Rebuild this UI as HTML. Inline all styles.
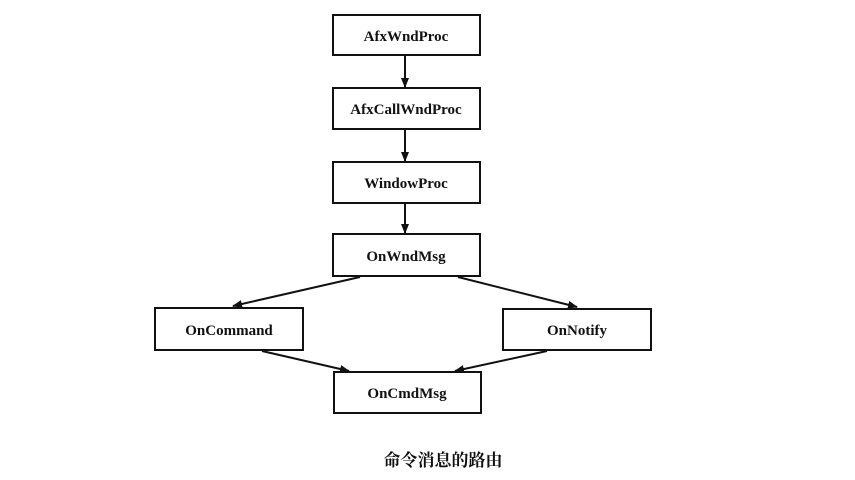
<!DOCTYPE html>
<html><head><meta charset="utf-8"><style>
html,body{margin:0;padding:0;background:#fff;}
svg{display:block;}
text{font-family:"Liberation Serif","Noto Serif CJK SC",serif;font-size:15px;font-weight:bold;fill:#111;}
</style></head><body>
<svg width="855" height="480" viewBox="0 0 855 480" xmlns="http://www.w3.org/2000/svg">
<defs><marker id="a" markerWidth="10" markerHeight="8" refX="9" refY="4" orient="auto" markerUnits="userSpaceOnUse"><path d="M0,0 L10,4 L0,8 Z" fill="#111"/></marker></defs>
<g fill="none" stroke="#111" stroke-width="2">
<rect x="333" y="15" width="147" height="40"/>
<rect x="333" y="88" width="147" height="41"/>
<rect x="333" y="162" width="147" height="41"/>
<rect x="333" y="234" width="147" height="42"/>
<rect x="155" y="308" width="148" height="42"/>
<rect x="503" y="309" width="148" height="41"/>
<rect x="334" y="372" width="147" height="41"/>
<line x1="405" y1="56" x2="405" y2="87" marker-end="url(#a)"/>
<line x1="405" y1="130" x2="405" y2="161" marker-end="url(#a)"/>
<line x1="405" y1="204" x2="405" y2="233" marker-end="url(#a)"/>
<line x1="360" y1="277" x2="233" y2="306" marker-end="url(#a)"/>
<line x1="458" y1="277" x2="577" y2="307" marker-end="url(#a)"/>
<line x1="262" y1="351" x2="349" y2="371" marker-end="url(#a)"/>
<line x1="547" y1="351" x2="455" y2="371" marker-end="url(#a)"/>
</g>
<g text-anchor="middle">
<text x="406" y="41">AfxWndProc</text>
<text x="406" y="114">AfxCallWndProc</text>
<text x="406" y="188">WindowProc</text>
<text x="406" y="261">OnWndMsg</text>
<text x="229" y="335">OnCommand</text>
<text x="577" y="335">OnNotify</text>
<text x="407" y="398">OnCmdMsg</text>
<text x="443" y="466" style="font-size:17px">命令消息的路由</text>
</g>
</svg>
</body></html>
